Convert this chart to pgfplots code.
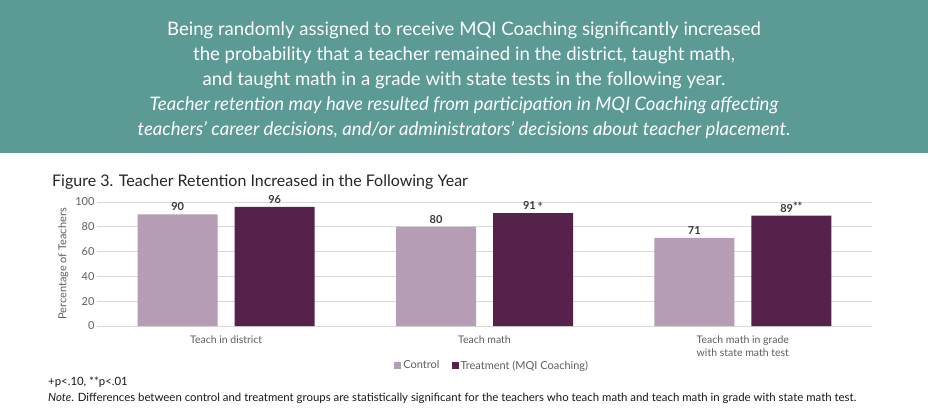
\documentclass[border=0pt]{standalone}
\usepackage{fontspec}
\setmainfont{Lato}
\usepackage{pgfplots}
\pgfplotsset{compat=1.18}
\definecolor{bannerteal}{HTML}{5B9A95}
\definecolor{ctrl}{HTML}{B59DB6}
\definecolor{treat}{HTML}{56214B}
\definecolor{gridc}{HTML}{D9D9D9}
\definecolor{txtgray}{HTML}{5F5F5F}
\definecolor{valgray}{HTML}{3A3A3A}
\begin{document}
\begin{tikzpicture}[x=1pt,y=1pt]
\fill[white] (0,0) rectangle (928,-410);
\fill[bannerteal] (0,0) rectangle (928,-153);
\node[white, font=\fontsize{18.6}{25}\selectfont, align=center] at (464,-80)
{Being randomly assigned to receive MQI Coaching significantly increased\\
the probability that a teacher remained in the district, taught math,\\
and taught math in a grade with state tests in the following year.\\
{\itshape Teacher retention may have resulted from participation in MQI Coaching affecting}\\
{\itshape teachers’ career decisions, and/or administrators’ decisions about teacher placement.}};
\node[anchor=base west, inner sep=0pt, font=\fontsize{16}{19}\selectfont, text=black!85] at (52,-186)
{Figure 3. Teacher Retention Increased in the Following Year};
\begin{axis}[
  at={(97pt,-326pt)}, anchor=south west,
  scale only axis, width=775pt, height=124pt,
  xmin=-0.5, xmax=2.5, ymin=0, ymax=100,
  ybar=17pt, bar width=80pt,
  axis line style={draw=none},
  major tick length=0pt,
  ytick={0,20,...,100},
  ymajorgrids, grid style={gridc, line width=0.8pt},
  xtick={0,1,2},
  xticklabels={Teach in district, Teach math, {Teach math in grade\\with state math test}},
  xticklabel style={align=center, font=\fontsize{10.5}{13}\selectfont, text=txtgray, yshift=-6pt},
  yticklabel style={font=\fontsize{11}{13}\selectfont, text=txtgray, xshift=1pt},
  /pgf/number format/assume math mode=true,
  ylabel={Percentage of Teachers},
  ylabel style={font=\fontsize{11}{13}\selectfont, text=txtgray, yshift=0pt},
  point meta=explicit symbolic,
  nodes near coords,
  nodes near coords style={font=\fontsize{11}{12}\selectfont\bfseries, text=valgray, anchor=south, yshift=0pt},
  legend style={draw=none, fill=none, at={(0.51,-0.32)}, anchor=center, legend columns=2,
    font=\fontsize{11}{13}\selectfont, text=txtgray,
    /tikz/every even column/.append style={column sep=10pt}},
]
\addplot[fill=ctrl, draw=none, legend image code/.code={\fill[ctrl] (0pt,-3.5pt) rectangle (7pt,3.5pt);}]
  coordinates {(0,90) [90] (1,80) [80] (2,71) [71]};
\addplot[fill=treat, draw=none, legend image code/.code={\fill[treat] (0pt,-3.5pt) rectangle (7pt,3.5pt);}]
  coordinates {(0,96) [96] (1,91) [{91\,\raisebox{2.5pt}{\fontsize{9}{9}\selectfont+}}] (2,89) [{89\raisebox{1.5pt}{**}}]};
\legend{Control, Treatment (MQI Coaching)}
\end{axis}
\node[anchor=base west, inner sep=0pt, font=\fontsize{11.4}{13}\selectfont, text=black!90] at (48,-385) {+p<.10, **p<.01};
\node[anchor=base west, inner sep=0pt, font=\fontsize{11.4}{13}\selectfont, text=black!90] at (48,-401)
{\textit{Note}. Differences between control and treatment groups are statistically significant for the teachers who teach math and teach math in grade with state math test.};
\end{tikzpicture}
\end{document}
